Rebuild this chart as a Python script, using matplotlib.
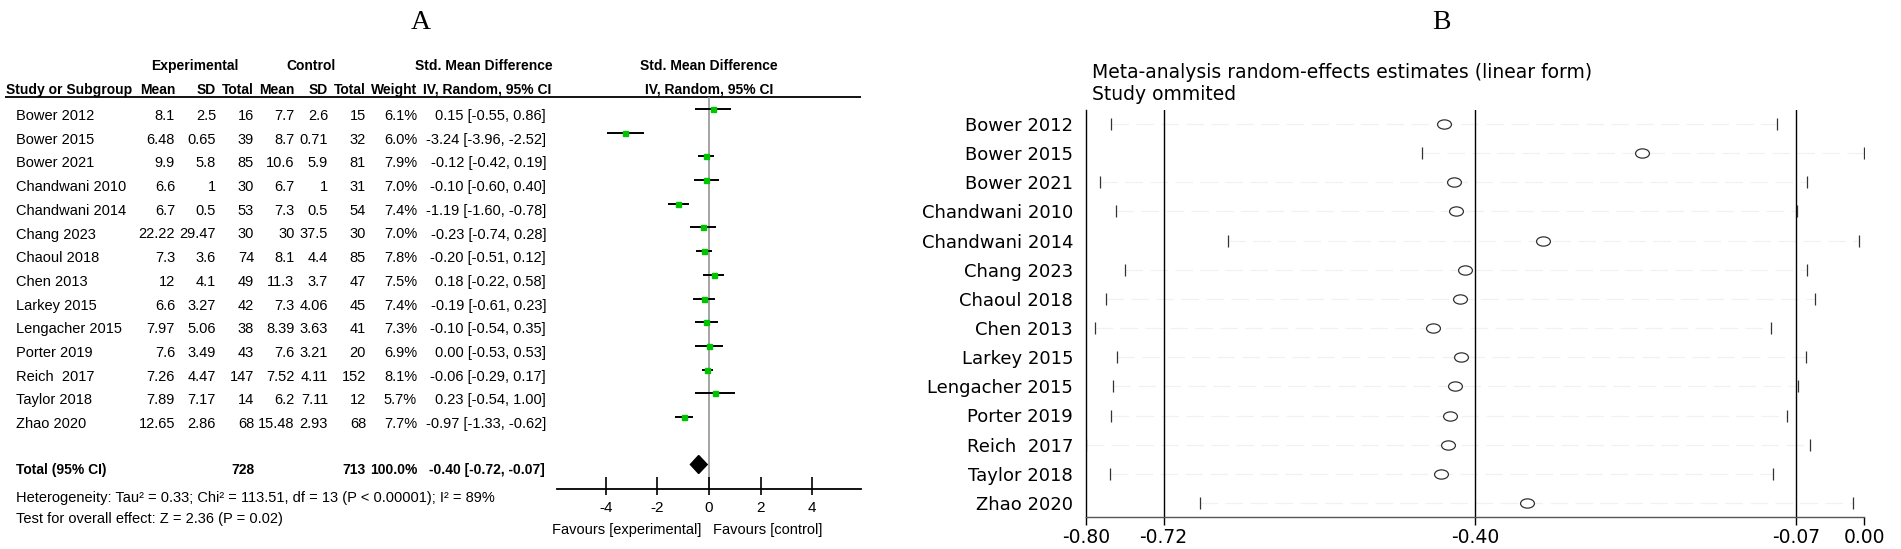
import matplotlib
matplotlib.use('Agg')
import matplotlib.pyplot as plt
from matplotlib.path import Path
from matplotlib.transforms import Affine2D, blended_transform_factory

plt.rcParams['axes.unicode_minus'] = False

# ---- data: panel A (forest plot) ----
studies = ['Bower 2012', 'Bower 2015', 'Bower 2021', 'Chandwani 2010', 'Chandwani 2014',
           'Chang 2023', 'Chaoul 2018', 'Chen 2013', 'Larkey 2015', 'Lengacher 2015',
           'Porter 2019', 'Reich  2017', 'Taylor 2018', 'Zhao 2020']
exp_mean = [8.1, 6.48, 9.9, 6.6, 6.7, 22.22, 7.3, 12, 6.6, 7.97, 7.6, 7.26, 7.89, 12.65]
exp_sd = [2.5, 0.65, 5.8, 1, 0.5, 29.47, 3.6, 4.1, 3.27, 5.06, 3.49, 4.47, 7.17, 2.86]
exp_n = [16, 39, 85, 30, 53, 30, 74, 49, 42, 38, 43, 147, 14, 68]
ctl_mean = [7.7, 8.7, 10.6, 6.7, 7.3, 30, 8.1, 11.3, 7.3, 8.39, 7.6, 7.52, 6.2, 15.48]
ctl_sd = [2.6, 0.71, 5.9, 1, 0.5, 37.5, 4.4, 3.7, 4.06, 3.63, 3.21, 4.11, 7.11, 2.93]
ctl_n = [15, 32, 81, 31, 54, 30, 85, 47, 45, 41, 20, 152, 12, 68]
weight = [6.1, 6.0, 7.9, 7.0, 7.4, 7.0, 7.8, 7.5, 7.4, 7.3, 6.9, 8.1, 5.7, 7.7]
smd = [0.15, -3.24, -0.12, -0.10, -1.19, -0.23, -0.20, 0.18, -0.19, -0.10, 0.00, -0.06, 0.23, -0.97]
smd_lo = [-0.55, -3.96, -0.42, -0.60, -1.60, -0.74, -0.51, -0.22, -0.61, -0.54, -0.53, -0.29, -0.54, -1.33]
smd_hi = [0.86, -2.52, 0.19, 0.40, -0.78, 0.28, 0.12, 0.58, 0.23, 0.35, 0.53, 0.17, 1.00, -0.62]
total_exp_n = 728
total_ctl_n = 713
total_weight = 100.0
total_smd, total_lo, total_hi = -0.40, -0.72, -0.07
forest_ticks = [-4, -2, 0, 2, 4]
het_text = 'Heterogeneity: Tau² = 0.33; Chi² = 113.51, df = 13 (P < 0.00001); I² = 89%'
test_text = 'Test for overall effect: Z = 2.36 (P = 0.02)'

# ---- data: panel B (leave-one-out sensitivity) ----
loo_est = [-0.432, -0.228, -0.422, -0.420, -0.330, -0.410, -0.415, -0.443, -0.414, -0.421,
           -0.426, -0.428, -0.435, -0.347]
loo_lo = [-0.774, -0.454, -0.785, -0.769, -0.654, -0.760, -0.779, -0.790, -0.768, -0.772,
          -0.774, -0.800, -0.775, -0.683]
loo_hi = [-0.090, 0.000, -0.059, -0.069, -0.005, -0.059, -0.051, -0.096, -0.060, -0.068,
          -0.079, -0.056, -0.094, -0.012]
overall_lines = [-0.72, -0.40, -0.07]
loo_ticks = [-0.80, -0.72, -0.40, -0.07, 0.00]

# ---- figure layout (pixel based) ----
W, H = 1901, 549
fig = plt.figure(figsize=(W / 100, H / 100), dpi=100)


def px_rect(left, top, right, bottom):
    return [left / W, 1 - bottom / H, (right - left) / W, (bottom - top) / H]


narrow = ['Liberation Sans Narrow', 'Liberation Sans', 'DejaVu Sans']
serif = ['Liberation Serif', 'DejaVu Serif']
fs = 10.5   # body text
fsb = 10    # bold header / total text

# panel titles
fig.text(420.7 / W, 1 - 22.7 / H, 'A', family=serif, fontsize=20, ha='center', va='center')
fig.text(1441.7 / W, 1 - 22.7 / H, 'B', family=serif, fontsize=20, ha='center', va='center')

# ---- panel A table ----
row0, step = 116, 23.7
ax_t = fig.add_axes(px_rect(0, 0, 870, H))
ax_t.set_xlim(0, 870)
ax_t.set_ylim((H - row0) / step, -row0 / step)
ax_t.axis('off')

x_name = 16
x_cols = [175, 216, 254, 294.6, 328, 366, 417]
x_ci = 546

rows = list(range(len(studies)))
for i in rows:
    vals = ['{:g}'.format(exp_mean[i]), '{:g}'.format(exp_sd[i]), str(exp_n[i]),
            '{:g}'.format(ctl_mean[i]), '{:g}'.format(ctl_sd[i]), str(ctl_n[i]),
            '{:.1f}%'.format(weight[i])]
    ax_t.text(x_name, i, studies[i], family=narrow, fontsize=fs, ha='left', va='center')
    for x, v in zip(x_cols, vals):
        ax_t.text(x, i, v, family=narrow, fontsize=fs, ha='right', va='center')
    ci = '{:.2f} [{:.2f}, {:.2f}]'.format(smd[i], smd_lo[i], smd_hi[i])
    ax_t.text(x_ci, i, ci, family=narrow, fontsize=fs, ha='right', va='center')

# headers
r_h1 = (66 - row0) / step
r_h2 = (90 - row0) / step
hdr = dict(family=narrow, fontsize=fsb, fontweight='bold', va='center')
ax_t.text(194.6, r_h1, 'Experimental', ha='center', **hdr)
ax_t.text(310.7, r_h1, 'Control', ha='center', **hdr)
ax_t.text(484, r_h1, 'Std. Mean Difference', ha='center', **hdr)
ax_t.text(6, r_h2, 'Study or Subgroup', ha='left', **hdr)
for x, lab in zip(x_cols, ['Mean', 'SD', 'Total', 'Mean', 'SD', 'Total', 'Weight']):
    ax_t.text(x, r_h2, lab, ha='right', **hdr)
ax_t.text(551, r_h2, 'IV, Random, 95% CI', ha='right', **hdr)
ax_t.plot([5, 861], [(97 - row0) / step] * 2, color='black', lw=1.3, solid_capstyle='butt')

# total / footer
r_tot = (470 - row0) / step
ax_t.text(x_name, r_tot, 'Total (95% CI)', ha='left', **hdr)
ax_t.text(x_cols[2], r_tot, str(total_exp_n), ha='right', **hdr)
ax_t.text(x_cols[5], r_tot, str(total_ctl_n), ha='right', **hdr)
ax_t.text(x_cols[6], r_tot, '{:.1f}%'.format(total_weight), ha='right', **hdr)
ax_t.text(x_ci - 1, r_tot, '{:.2f} [{:.2f}, {:.2f}]'.format(total_smd, total_lo, total_hi),
          ha='right', **hdr)
ax_t.text(x_name, (497.7 - row0) / step, het_text, family=narrow, fontsize=fs, ha='left', va='center')
ax_t.text(x_name, (519 - row0) / step, test_text, family=narrow, fontsize=fs, ha='left', va='center')

# ---- panel A forest ----
zero_px, unit_px = 709, 25.8
f_lim = 5.9
f0 = 109
ax_f = fig.add_axes(px_rect(zero_px - f_lim * unit_px, 97, zero_px + f_lim * unit_px, 489))
ax_f.set_xlim(-f_lim, f_lim)
ax_f.set_ylim((489 - f0) / step, (97 - f0) / step)
ax_f.patch.set_alpha(0)
for s in ['top', 'right', 'left']:
    ax_f.spines[s].set_visible(False)
ax_f.spines['bottom'].set_linewidth(1.3)
ax_f.axvline(0, color='#8c8c8c', lw=1.1, zorder=1)
ax_f.hlines(rows, smd_lo, smd_hi, color='black', lw=1.4, zorder=2)
ax_f.plot(smd, rows, 's', color='#00c400', ms=3.6, zorder=3)
r_tot_f = 15
ax_f.fill([total_lo, total_smd, total_hi, total_smd],
          [r_tot_f, r_tot_f - 0.38, r_tot_f, r_tot_f + 0.38], color='black', zorder=3)
ax_f.set_yticks([])
ax_f.set_xticks(forest_ticks)
ax_f.set_xticks(forest_ticks, minor=True)
ax_f.xaxis.remove_overlapping_locs = False
ax_f.tick_params(axis='x', which='major', direction='in', length=9, width=1.2, pad=8.6,
                 labelsize=11)
ax_f.tick_params(axis='x', which='minor', direction='out', length=4.2, width=1.2)
for lab in ax_f.get_xticklabels():
    lab.set_family(narrow)
r_fav = (530 - f0) / step
ax_f.text(-0.3, r_fav, 'Favours [experimental]', family=narrow, fontsize=fs,
          ha='right', va='center', clip_on=False)
ax_f.text(0.17, r_fav, 'Favours [control]', family=narrow, fontsize=fs,
          ha='left', va='center', clip_on=False)
# forest header centred on the zero line
tr = blended_transform_factory(ax_f.transData, ax_t.transData)
ax_t.text(0, r_h1, 'Std. Mean Difference', ha='center', transform=tr, **hdr)
ax_t.text(0, r_h2, 'IV, Random, 95% CI', ha='center', transform=tr, **hdr)

# ---- panel B ----
b0, bstep = 124, 29.15
ax_b = fig.add_axes(px_rect(1085.7, 110, 1864.3, 517.3))
ax_b.set_xlim(loo_ticks[0], loo_ticks[-1])
ax_b.set_ylim((517.3 - b0) / bstep, (110 - b0) / bstep)
ax_b.spines['top'].set_visible(False)
ax_b.spines['right'].set_visible(False)
ax_b.spines['left'].set_linewidth(1.0)
ax_b.spines['bottom'].set_linewidth(1.0)
ax_b.spines['bottom'].set_color('#555555')
for v in overall_lines:
    ax_b.axvline(v, color='black', lw=1.0, zorder=1)
ax_b.hlines(rows, loo_lo, loo_hi, color='#f1f1f1', lw=0.9, linestyles=(0, (14, 6)), zorder=0)
ax_b.plot(loo_lo, rows, '|', color='#333333', ms=8.4, mew=0.9, ls='none')
ax_b.plot(loo_hi, rows, '|', color='#333333', ms=8.4, mew=0.9, ls='none')
ellipse = Path.unit_circle().transformed(Affine2D().scale(1.5, 1.0))
ax_b.plot(loo_est, rows, marker=ellipse, ms=10, mfc='white', mec='#333333', mew=0.9,
          ls='none', zorder=3)
ax_b.set_xticks(loo_ticks)
ax_b.set_xticklabels(['{:.2f}'.format(t) for t in loo_ticks])
ax_b.tick_params(axis='x', direction='out', length=6, width=1.0, pad=2, labelsize=13.5)
ax_b.set_yticks(rows)
ax_b.set_yticklabels(studies)
ax_b.tick_params(axis='y', length=0, pad=9, labelsize=13)
fig.text(1092 / W, 1 - 72 / H, 'Meta-analysis random-effects estimates (linear form)',
         family='DejaVu Sans', fontsize=13.5, ha='left', va='center')
fig.text(1092 / W, 1 - 94 / H, 'Study ommited', family='DejaVu Sans', fontsize=13.5,
         ha='left', va='center')

fig.savefig('out.png', dpi=100)
